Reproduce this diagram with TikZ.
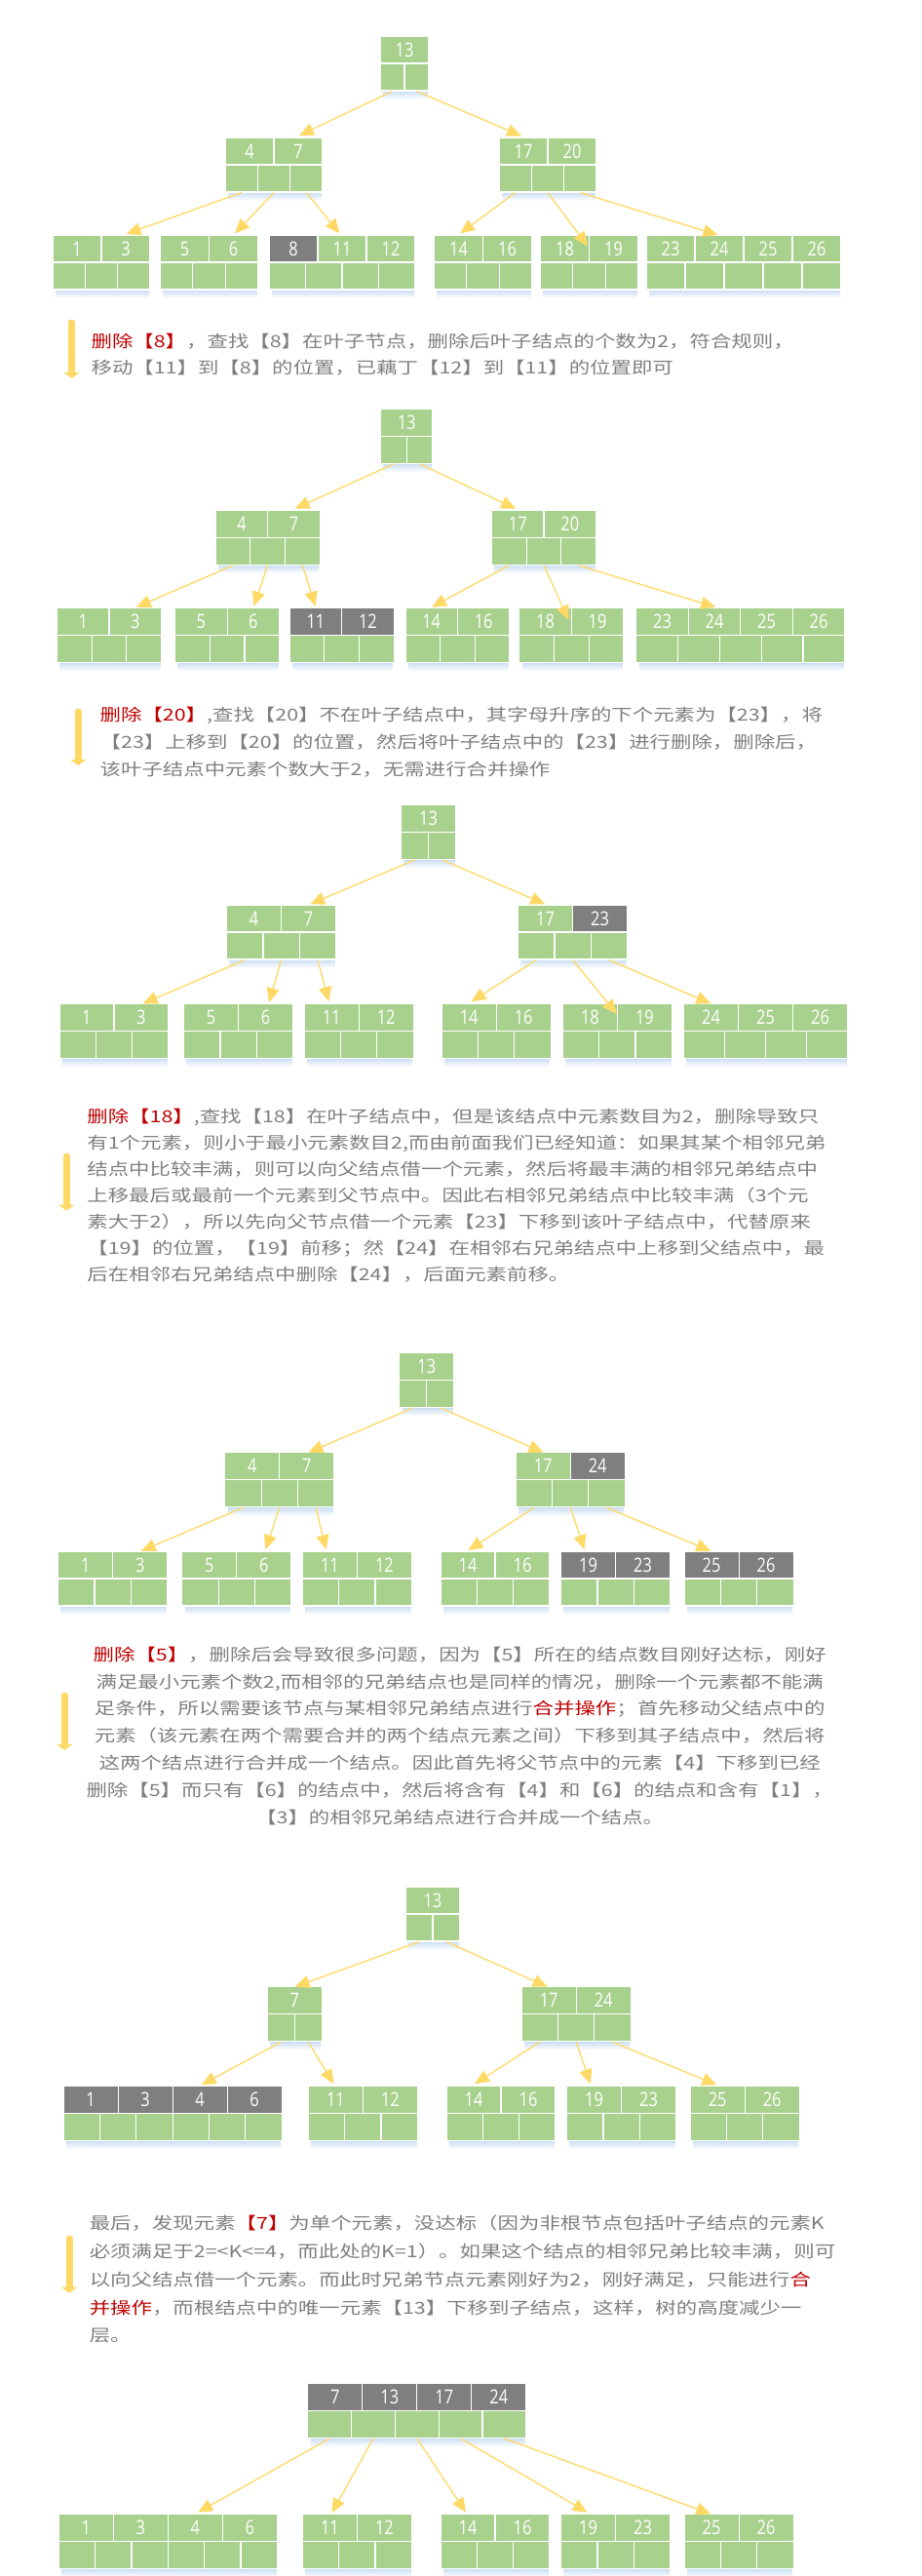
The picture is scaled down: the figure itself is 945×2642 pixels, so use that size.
\documentclass[tikz,border=0pt]{standalone}
\usepackage{fontspec}
\usetikzlibrary{arrows.meta}
\newfontfamily\cjk[FakeStretch=1.26]{Noto Sans CJK SC}
\newfontfamily\numfont[FakeStretch=0.82]{Open Sans}
\definecolor{kgreen}{HTML}{A9D18E}
\definecolor{kgray}{HTML}{7F7F7F}
\definecolor{arrowyellow}{HTML}{FFD966}
\definecolor{shadeblue}{HTML}{C9DDF2}
\definecolor{tgray}{HTML}{7F7F7F}
\definecolor{tred}{HTML}{C00000}
\def\rowh{28}
\def\cellw{50}
% one B-tree node: name, left, top, keys (key/fill), pointer cells
\newcommand{\btnode}[5]{%
  \foreach [count=\i] \kv/\kcol in {#4} {\xdef\nkeys{\i}}%
  \pgfmathsetmacro{\boxw}{\nkeys*\cellw}%
  \pgfmathsetmacro{\ptrw}{\boxw/#5}%
  \shade[top color=shadeblue, bottom color=white] (#2+3,#3+2*\rowh) rectangle (#2+\boxw-1,#3+2*\rowh+9);%
  \coordinate (#1) at (#2,#3);%
  \foreach [count=\i] \kv/\kcol in {#4}
    \node[keycell, fill=\kcol, minimum width=\cellw pt] (#1-k\i) at ({#2+(\i-0.5)*\cellw}, {#3+0.5*\rowh}) {\kv};%
  \foreach \j in {1,...,#5}
    \node[ptrcell, minimum width=\ptrw pt] (#1-p\j) at ({#2+(\j-0.5)*\ptrw}, {#3+1.5*\rowh}) {};%
}
\begin{document}
\begin{tikzpicture}[x=1pt,y=-1pt,
    keycell/.style={draw=white, line width=1.2pt, inner sep=0pt, minimum height=\rowh pt, text=white, font=\numfont\fontsize{20}{20}\selectfont},
    ptrcell/.style={draw=white, line width=1.2pt, fill=kgreen, inner sep=0pt, minimum height=\rowh pt},
    treearrow/.style={draw=arrowyellow, line width=1.3pt, -{Triangle[length=15pt,width=13pt]}},
    sidebar/.style={draw=arrowyellow, line width=7pt, line cap=round, -{Triangle[length=6pt,width=16pt]}},
    txt/.style={inner sep=0pt, align=left, text=tgray}]
    \useasboundingbox[fill=white] (0,0) rectangle (945,2642);

    % delete 8
    \def\cellw{50}
    \btnode{r1}{390}{37}{13/kgreen}{2}
    \btnode{a1}{231}{141}{4/kgreen,7/kgreen}{3}
    \btnode{b1}{512}{141}{17/kgreen,20/kgreen}{3}
    \btnode{c1}{54}{241}{1/kgreen,3/kgreen}{3}
    \btnode{d1}{164.5}{241}{5/kgreen,6/kgreen}{3}
    \btnode{e1}{276}{241}{8/kgray,11/kgreen,12/kgreen}{4}
    \btnode{f1}{445.5}{241}{14/kgreen,16/kgreen}{3}
    \btnode{g1}{554.5}{241}{18/kgreen,19/kgreen}{3}
    \btnode{h1}{663}{241}{23/kgreen,24/kgreen,25/kgreen,26/kgreen}{5}
    \foreach \src/\dst/\dx/\dy in {r1-p1/a1/76/-2, r1-p2/b1/23/-1.5, a1-p1/c1/75.5/-1, a1-p2/d1/76.5/-1.5,
        a1-p3/e1/72.5/-1.5, b1-p1/f1/26.5/-1.5, b1-p2/g1/48.5/11.5, b1-p3/h1/73.5/0}
        \draw[treearrow] (\src.south) -- ([shift={(\dx,\dy)}]\dst);

    \draw[sidebar] (73.5,331) -- (73.5,388);
    \node[txt, anchor=north west, font=\cjk\fontsize{17}{26.7}\selectfont] (t1) at (93.4,342) {%
        \textcolor{tred}{删除【8】}，查找【8】在叶子节点，删除后叶子结点的个数为2，符合规则，\\
        移动【11】到【8】的位置，已藕丁【12】到【11】的位置即可};

    % delete 20
    \def\cellw{53.5}
    \btnode{r2}{390.5}{419.3}{13/kgreen}{2}
    \btnode{a2}{221.2}{523.3}{4/kgreen,7/kgreen}{3}
    \btnode{b2}{504.5}{523.3}{17/kgreen,20/kgreen}{3}
    \btnode{c2}{58.5}{623.3}{1/kgreen,3/kgreen}{3}
    \btnode{d2}{179.6}{623.3}{5/kgreen,6/kgreen}{3}
    \btnode{e2}{297.2}{623.3}{11/kgray,12/kgray}{3}
    \btnode{f2}{415.9}{623.3}{14/kgreen,16/kgreen}{3}
    \btnode{g2}{532.8}{623.3}{18/kgreen,19/kgreen}{3}
    \btnode{h2}{652.8}{623.3}{23/kgreen,24/kgreen,25/kgreen,26/kgreen}{5}
    \foreach \src/\dst/\dx/\dy in {r2-p1/a2/81.4/-1.6, r2-p2/b2/24.7/-1.6, a2-p1/c2/81.3/-0.6, a2-p2/d2/80.8/-1.6,
        a2-p3/e2/26.5/-1.6, b2-p1/f2/27.1/-0.6, b2-p2/g2/50.7/12.7, b2-p3/h2/81.4/-0.6}
        \draw[treearrow] (\src.south) -- ([shift={(\dx,\dy)}]\dst);

    \draw[sidebar] (80.2,730) -- (80.2,785);
    \node[txt, anchor=north west, font=\cjk\fontsize{17}{28}\selectfont] (t2) at (102.5,725.3) {%
        \textcolor{tred}{删除【20】},查找【20】不在叶子结点中，其字母升序的下个元素为【23】，将\\
        【23】上移到【20】的位置，然后将叶子结点中的【23】进行删除，删除后，\\
        该叶子结点中元素个数大于2，无需进行合并操作};

    % delete 18
    \def\cellw{56}
    \btnode{r3}{411.6}{825.3}{13/kgreen}{2}
    \btnode{a3}{232.6}{928}{4/kgreen,7/kgreen}{3}
    \btnode{b3}{531.6}{928}{17/kgreen,23/kgray}{3}
    \btnode{c3}{60.9}{1029.3}{1/kgreen,3/kgreen}{3}
    \btnode{d3}{188.6}{1029.3}{5/kgreen,6/kgreen}{3}
    \btnode{e3}{312.2}{1029.3}{11/kgreen,12/kgreen}{3}
    \btnode{f3}{453.2}{1029.3}{14/kgreen,16/kgreen}{3}
    \btnode{g3}{577.4}{1029.3}{18/kgreen,19/kgreen}{3}
    \btnode{h3}{701.5}{1029.3}{24/kgreen,25/kgreen,26/kgreen}{4}
    \foreach \src/\dst/\dx/\dy in {r3-p1/a3/85.6/-0.7, r3-p2/b3/27.7/-0.7, a3-p1/c3/85.6/0, a3-p2/d3/87.4/-1,
        a3-p3/e3/25.3/-2, b3-p1/f3/30.2/-2, b3-p2/g3/55.5/10.7, b3-p3/h3/27.8/0}
        \draw[treearrow] (\src.south) -- ([shift={(\dx,\dy)}]\dst);

    \draw[sidebar] (68.1,1186) -- (68.1,1241.7);
    \node[txt, anchor=north west, font=\cjk\fontsize{17}{26.95}\selectfont] (t3) at (89.2,1137) {%
        \textcolor{tred}{删除【18】},查找【18】在叶子结点中，但是该结点中元素数目为2，删除导致只\\
        有1个元素，则小于最小元素数目2,而由前面我们已经知道：如果其某个相邻兄弟\\
        结点中比较丰满，则可以向父结点借一个元素，然后将最丰满的相邻兄弟结点中\\
        上移最后或最前一个元素到父节点中。因此右相邻兄弟结点中比较丰满（3个元\\
        素大于2），所以先向父节点借一个元素【23】下移到该叶子结点中，代替原来\\
        【19】的位置，【19】前移；然【24】在相邻右兄弟结点中上移到父结点中，最\\
        后在相邻右兄弟结点中删除【24】，后面元素前移。};

    % borrow from the right sibling
    \btnode{r4}{409.8}{1387.3}{13/kgreen}{2}
    \btnode{a4}{230.8}{1489.7}{4/kgreen,7/kgreen}{3}
    \btnode{b4}{529.2}{1489.7}{17/kgreen,24/kgray}{3}
    \btnode{c4}{59.7}{1591}{1/kgreen,3/kgreen}{3}
    \btnode{d4}{186.8}{1591}{5/kgreen,6/kgreen}{3}
    \btnode{e4}{310.4}{1591}{11/kgreen,12/kgreen}{3}
    \btnode{f4}{452}{1591}{14/kgreen,16/kgreen}{3}
    \btnode{g4}{575.6}{1591}{19/kgray,23/kgray}{3}
    \btnode{h4}{702.1}{1591}{25/kgray,26/kgray}{3}
    \foreach \src/\dst/\dx/\dy in {r4-p1/a4/85.6/0, r4-p2/b4/28.3/0, a4-p1/c4/85/-0.3, a4-p2/d4/85.6/-1.7,
        a4-p3/e4/24.1/-1.7, b4-p1/f4/28.4/-1, b4-p2/g4/24.1/-1.7, b4-p3/h4/27.2/-0.3}
        \draw[treearrow] (\src.south) -- ([shift={(\dx,\dy)}]\dst);

    \draw[sidebar] (66.3,1739) -- (66.3,1795);
    \node[txt, align=center, anchor=north, font=\cjk\fontsize{17}{27.8}\selectfont] (t4) at (471.7,1688.7) {%
        \textcolor{tred}{删除【5】}，删除后会导致很多问题，因为【5】所在的结点数目刚好达标，刚好\\
        满足最小元素个数2,而相邻的兄弟结点也是同样的情况，删除一个元素都不能满\\
        足条件，所以需要该节点与某相邻兄弟结点进行\textcolor{tred}{合并操作}；首先移动父结点中的\\
        元素（该元素在两个需要合并的两个结点元素之间）下移到其子结点中，然后将\\
        这两个结点进行合并成一个结点。因此首先将父节点中的元素【4】下移到已经\\
        删除【5】而只有【6】的结点中，然后将含有【4】和【6】的结点和含有【1】，\\
        【3】的相邻兄弟结点进行合并成一个结点。};

    % delete 5, merge
    \btnode{r5}{415.9}{1935}{13/kgreen}{2}
    \btnode{a5}{274.2}{2037.7}{7/kgreen}{2}
    \btnode{b5}{535.2}{2037.7}{17/kgreen,24/kgreen}{3}
    \btnode{c5}{65.1}{2139.3}{1/kgray,3/kgray,4/kgray,6/kgray}{6}
    \btnode{d5}{316.4}{2139.3}{11/kgreen,12/kgreen}{3}
    \btnode{e5}{458}{2139.3}{14/kgreen,16/kgreen}{3}
    \btnode{f5}{581.6}{2139.3}{19/kgreen,23/kgreen}{3}
    \btnode{g5}{708.2}{2139.3}{25/kgreen,26/kgreen}{3}
    \foreach \src/\dst/\dx/\dy in {r5-p1/a5/28.4/0, r5-p2/b5/26.6/0, a5-p1/c5/141.6/-1, a5-p2/d5/26/-2,
        b5-p1/e5/29/-2, b5-p2/f5/24.2/-2, b5-p3/g5/27.2/-1}
        \draw[treearrow] (\src.south) -- ([shift={(\dx,\dy)}]\dst);

    \draw[sidebar] (71.1,2296) -- (71.1,2351.7);
    \node[txt, anchor=north west, font=\cjk\fontsize{17}{28.75}\selectfont] (t5) at (91.6,2272) {%
        最后，发现元素\textcolor{tred}{【7】}为单个元素，没达标（因为非根节点包括叶子结点的元素K\\
        必须满足于2=<K<=4，而此处的K=1）。如果这个结点的相邻兄弟比较丰满，则可\\
        以向父结点借一个元素。而此时兄弟节点元素刚好为2，刚好满足，只能进行\textcolor{tred}{合}\\
        \textcolor{tred}{并操作}，而根结点中的唯一元素【13】下移到子结点，这样，树的高度减少一\\
        层。};

    % root merged
    \btnode{r6}{315.8}{2444.3}{7/kgray,13/kgray,17/kgray,24/kgray}{5}
    \btnode{c6}{60.3}{2578.3}{1/kgreen,3/kgreen,4/kgreen,6/kgreen}{6}
    \btnode{d6}{310.4}{2578.3}{11/kgreen,12/kgreen}{3}
    \btnode{e6}{452}{2578.3}{14/kgreen,16/kgreen}{3}
    \btnode{f6}{575.6}{2578.3}{19/kgreen,23/kgreen}{3}
    \btnode{g6}{702.1}{2578.3}{25/kgreen,26/kgreen}{3}
    \foreach \src/\dst/\dx/\dy in {r6-p1/c6/142.8/-1.6, r6-p2/d6/30.1/-1, r6-p3/e6/26/-1.6,
        r6-p4/f6/27.1/-1.6, r6-p5/g6/27.2/0}
        \draw[treearrow] (\src.south) -- ([shift={(\dx,\dy)}]\dst);
\end{tikzpicture}
\end{document}
